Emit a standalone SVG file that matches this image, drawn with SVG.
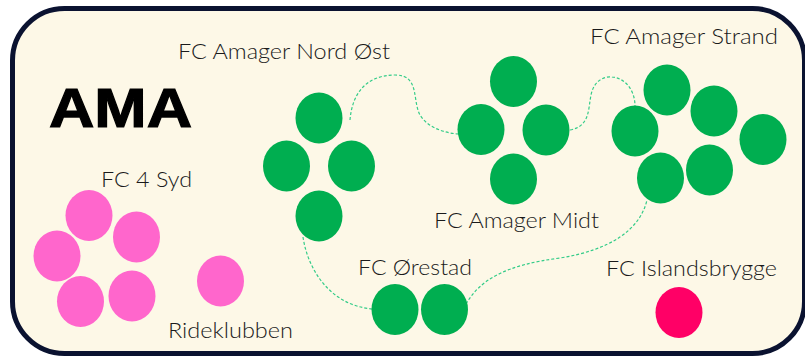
<svg xmlns="http://www.w3.org/2000/svg" width="805" height="357" viewBox="0 0 805 357">
<style>
.lbl{font-family:"Lato","Liberation Sans",sans-serif;font-weight:300;font-size:21px;fill:#1a1a1a;}
.title{font-family:"Liberation Sans","Lato",sans-serif;font-weight:700;font-size:56px;fill:#000;stroke:#000;stroke-width:1.2;}
.g{fill:#00AE50;}
.p{fill:#FF66CC;}
.r{fill:#FF0066;}
.c{fill:none;stroke:#33CC88;stroke-width:1.2;stroke-dasharray:3 2;}
</style>
<rect x="12.5" y="8.5" width="792" height="345" rx="52" ry="52" fill="#FDF8E7" stroke="#0A1230" stroke-width="5"/>
<text class="title" x="49" y="127" textLength="143" lengthAdjust="spacingAndGlyphs">AMA</text>
<g id="connectors">
<path class="c" d="M350,120 C352,95 365,75 395,75 C420,75 412,100 420,115 C428,128 445,133 458,134"/>
<path class="c" d="M570,130 C590,126 588,110 591,95 C594,80 605,76 612,77 C625,78 635,90 635,106"/>
<path class="c" d="M303,237 C308,270 330,305 372,309"/>
<path class="c" d="M466,304 C480,280 505,265 560,258 C610,250 640,230 647,200"/>
</g>
<g id="fc-amager-nord-ost">
<text class="lbl" x="178" y="59" textLength="212" lengthAdjust="spacingAndGlyphs">FC Amager Nord Øst</text>
<ellipse class="g" cx="319" cy="118" rx="23.5" ry="25.5"/>
<ellipse class="g" cx="286.5" cy="166" rx="23.5" ry="25.5"/>
<ellipse class="g" cx="351.5" cy="166" rx="23.5" ry="25.5"/>
<ellipse class="g" cx="319" cy="216" rx="23.5" ry="25.5"/>
</g>
<g id="fc-amager-midt">
<text class="lbl" x="434" y="228" textLength="165" lengthAdjust="spacingAndGlyphs">FC Amager Midt</text>
<ellipse class="g" cx="513.5" cy="81.5" rx="23.5" ry="25.5"/>
<ellipse class="g" cx="481" cy="129.5" rx="23.5" ry="25.5"/>
<ellipse class="g" cx="546" cy="130" rx="23.5" ry="25.5"/>
<ellipse class="g" cx="513.5" cy="179" rx="23.5" ry="25.5"/>
</g>
<g id="fc-amager-strand">
<text class="lbl" x="590" y="44" textLength="188" lengthAdjust="spacingAndGlyphs">FC Amager Strand</text>
<ellipse class="g" cx="635" cy="131" rx="23.5" ry="25.5"/>
<ellipse class="g" cx="667" cy="90" rx="23.5" ry="25.5"/>
<ellipse class="g" cx="714" cy="111" rx="23.5" ry="25.5"/>
<ellipse class="g" cx="763" cy="139.5" rx="23.5" ry="25.5"/>
<ellipse class="g" cx="660.5" cy="178" rx="23.5" ry="25.5"/>
<ellipse class="g" cx="709.5" cy="170" rx="23.5" ry="25.5"/>
</g>
<g id="fc-orestad">
<text class="lbl" x="358" y="275" textLength="114" lengthAdjust="spacingAndGlyphs">FC Ørestad</text>
<ellipse class="g" cx="395" cy="309.5" rx="23.5" ry="25.5"/>
<ellipse class="g" cx="444.5" cy="309.5" rx="23.5" ry="25.5"/>
</g>
<g id="fc-islandsbrygge">
<text class="lbl" x="606" y="276" textLength="171" lengthAdjust="spacingAndGlyphs">FC Islandsbrygge</text>
<ellipse class="r" cx="679" cy="312.5" rx="23.5" ry="25.5"/>
</g>
<g id="fc-4-syd">
<text class="lbl" x="101" y="187" textLength="91" lengthAdjust="spacingAndGlyphs">FC 4 Syd</text>
<ellipse class="p" cx="89" cy="215.5" rx="23.5" ry="25.5"/>
<ellipse class="p" cx="136.5" cy="237" rx="23.5" ry="25.5"/>
<ellipse class="p" cx="57" cy="256" rx="23.5" ry="25.5"/>
<ellipse class="p" cx="80.5" cy="301.5" rx="23.5" ry="25.5"/>
<ellipse class="p" cx="132" cy="296" rx="23.5" ry="25.5"/>
</g>
<g id="rideklubben">
<text class="lbl" x="168" y="338" textLength="125" lengthAdjust="spacingAndGlyphs">Rideklubben</text>
<ellipse class="p" cx="220.5" cy="281" rx="23.5" ry="25.5"/>
</g>
</svg>
